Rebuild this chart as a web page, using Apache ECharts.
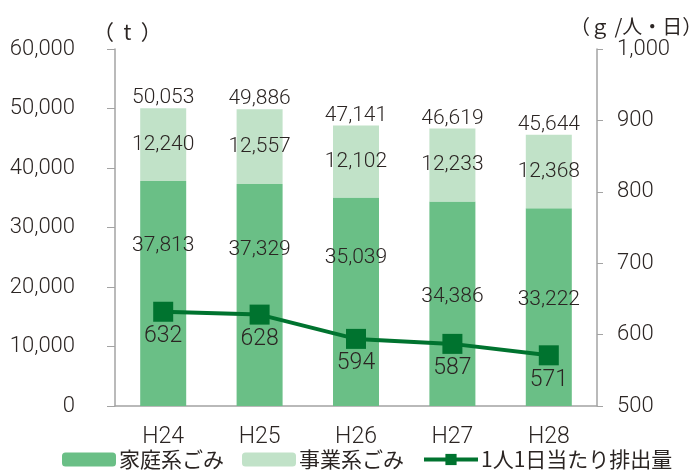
<!DOCTYPE html>
<html>
<head>
<meta charset="utf-8">
<script src="https://cdn.jsdelivr.net/npm/echarts@6/dist/echarts.min.js"></script>
<style>
  html, body { margin: 0; padding: 0; background: #fff; }
  #chart { width: 693px; height: 476px; }
</style>
</head>
<body>
<div id="chart"></div>
<script>
var years = ['H24', 'H25', 'H26', 'H27', 'H28'];
var household = [37813, 37329, 35039, 34386, 33222]; // 家庭系ごみ
var business = [12240, 12557, 12102, 12233, 12368];  // 事業系ごみ
var totals = [50053, 49886, 47141, 46619, 45644];    // 合計（図の表示どおり）
var perCapita = [632, 628, 594, 587, 571];           // 1人1日当たり排出量
var leftTicks = [0, 10000, 20000, 30000, 40000, 50000, 60000];
var rightTicks = [500, 600, 700, 800, 900, 1000];

// 家庭系ラベルの縦ずらし（折れ線と重ならないように）
var householdLabelShift = [-48, -45, -44, -7, -7];

var NUM_FONT = 'Roboto, sans-serif';
var NUM_W = 300;
var JP_FONT = '"Noto Sans CJK JP", sans-serif';
var TXT = '#2b2523';
var LINE_C = '#00732f';

function comma(v) {
    return String(v).replace(/\B(?=(\d{3})+(?!\d))/g, ',');
}

var chart = echarts.init(document.getElementById('chart'));
var option = {
    animation: false,
    textStyle: { fontFamily: NUM_FONT, color: TXT },
    grid: { left: 115, right: 96, top: 49, bottom: 70, outerBoundsMode: 'none', containLabel: false },
    legend: {
        data: ['家庭系ごみ', '事業系ごみ', {
            name: '1人1日当たり排出量',
            lineStyle: { width: 4 }
        }],
        left: 57,
        bottom: 1,
        itemWidth: 54,
        itemHeight: 14,
        itemGap: 18,
        textStyle: { fontFamily: JP_FONT, fontSize: 21, color: TXT, padding: [0, 0, 0, -2] }
    },
    xAxis: {
        type: 'category',
        data: years,
        axisLine: { lineStyle: { color: '#a3a3a3', width: 1.5 } },
        axisTick: { length: 8, lineStyle: { color: '#a3a3a3' } },
        axisLabel: { fontSize: 23, color: TXT, margin: 20, fontFamily: NUM_FONT, fontWeight: NUM_W }
    },
    yAxis: [{
        type: 'value',
        min: leftTicks[0],
        max: leftTicks[leftTicks.length - 1],
        interval: leftTicks[1] - leftTicks[0],
        name: '（  t  ）',
        nameLocation: 'end',
        nameGap: 6,
        nameTextStyle: { fontFamily: JP_FONT, fontSize: 21, color: TXT, align: 'left', padding: [0, 0, 0, -22] },
        axisLine: { show: true, lineStyle: { color: '#a3a3a3', width: 1.5 } },
        axisTick: { show: true, length: 8, lineStyle: { color: '#a3a3a3' } },
        splitLine: { show: false },
        axisLabel: { fontSize: 22, color: TXT, margin: 40, align: 'right', formatter: comma, fontWeight: NUM_W }
    }, {
        type: 'value',
        min: rightTicks[0],
        max: rightTicks[rightTicks.length - 1],
        interval: rightTicks[1] - rightTicks[0],
        name: '（ｇ /人・日）',
        nameLocation: 'end',
        nameGap: 13,
        nameTextStyle: { fontFamily: JP_FONT, fontSize: 20, color: TXT, align: 'left', padding: [0, 0, 0, -27] },
        axisLine: { show: true, lineStyle: { color: '#a3a3a3', width: 1.5 } },
        axisTick: { show: true, length: 6, lineStyle: { color: '#a3a3a3' } },
        splitLine: { show: false },
        axisLabel: { fontSize: 22, color: TXT, margin: 20, formatter: comma, fontWeight: NUM_W }
    }],
    series: [{
        name: '家庭系ごみ',
        type: 'bar',
        stack: 'gomi',
        barWidth: 46,
        itemStyle: { color: '#6abf86' },
        data: household.map(function(v, i) {
            return { value: v, label: { offset: [0, householdLabelShift[i]] } };
        }),
        label: {
            show: true,
            position: 'inside',
            fontSize: 21,
            fontWeight: NUM_W,
            color: TXT,
            formatter: function(p) { return comma(p.value); }
        },
        z: 2
    }, {
        name: '事業系ごみ',
        type: 'bar',
        stack: 'gomi',
        barWidth: 46,
        itemStyle: { color: '#c1e2c8' },
        data: business,
        label: {
            show: true,
            position: 'inside',
            fontSize: 21,
            fontWeight: NUM_W,
            color: TXT,
            formatter: function(p) { return comma(p.value); }
        },
        z: 2
    }, {
        name: '合計',
        type: 'scatter',
        data: totals,
        symbolSize: 1,
        itemStyle: { color: 'rgba(0,0,0,0)', opacity: 1 },
        label: {
            show: true,
            position: 'inside',
            offset: [0, -10],
            fontSize: 21,
            fontWeight: NUM_W,
            color: TXT,
            formatter: function(p) { return comma(p.value); }
        },
        emphasis: { disabled: true },
        z: 3
    }, {
        name: '1人1日当たり排出量',
        type: 'line',
        yAxisIndex: 1,
        data: perCapita,
        symbol: 'rect',
        symbolSize: 20,
        lineStyle: { color: LINE_C, width: 4 },
        itemStyle: { color: LINE_C },
        label: {
            show: true,
            position: 'bottom',
            distance: 3,
            fontSize: 23,
            fontWeight: NUM_W,
            color: TXT
        },
        z: 5
    }]
};
chart.setOption(option);
</script>
</body>
</html>
